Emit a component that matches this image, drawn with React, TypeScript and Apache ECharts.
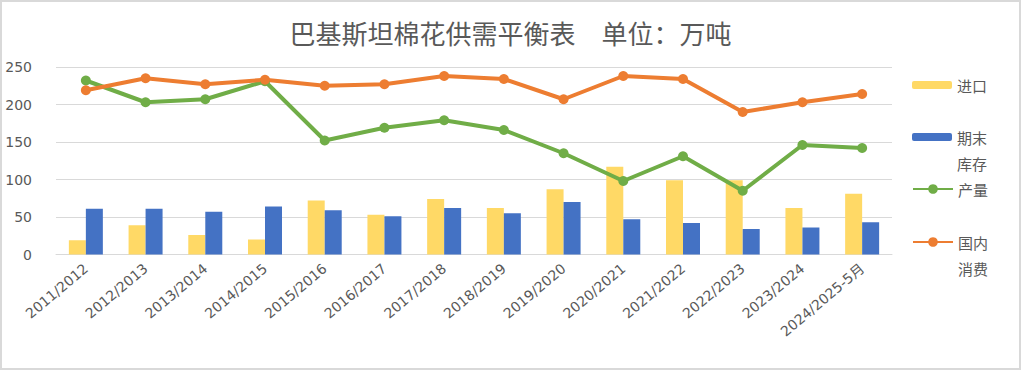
import React, { useEffect, useRef } from "react";
import * as echarts from "echarts";

const categories = [
  "2011/2012", "2012/2013", "2013/2014", "2014/2015", "2015/2016", "2016/2017", "2017/2018",
  "2018/2019", "2019/2020", "2020/2021", "2021/2022", "2022/2023", "2023/2024", "2024/2025-5月",
];
const imports = [19, 39, 26, 20, 72, 53, 74, 62, 87, 117, 99, 99, 62, 81];
const endingStocks = [61, 61, 57, 64, 59, 51, 62, 55, 70, 47, 42, 34, 36, 43];
const production = [232, 203, 207, 231, 152, 169, 179, 166, 135, 98, 131, 85, 146, 142];
const consumption = [219, 235, 227, 233, 225, 227, 238, 234, 207, 238, 234, 190, 203, 214];
const yTicks = [0, 50, 100, 150, 200, 250];

const TITLE = "巴基斯坦棉花供需平衡表　单位：万吨";
const GRAY = "#595959";
const CJK = "'Noto Sans CJK SC', sans-serif";
const NUM = "'DejaVu Sans', 'Noto Sans CJK SC', sans-serif";

export default function App() {
  const ref = useRef<HTMLDivElement>(null);
  useEffect(() => {
    document.body.style.margin = "0";
    if (!ref.current) return;
    const chart = echarts.init(ref.current, null, { renderer: "svg" });
    const legendText = { color: GRAY, fontSize: 15, fontFamily: CJK, lineHeight: 26 };
    chart.setOption({
      animation: false,
      backgroundColor: "#ffffff",
      title: {
        text: TITLE,
        left: "center",
        top: 17,
        padding: 0,
        textStyle: { color: GRAY, fontSize: 26, fontWeight: "normal", fontFamily: CJK },
      },
      legend: [
        {
          data: ["进口"], orient: "vertical", left: 910, top: 70, padding: 0,
          itemWidth: 40, itemHeight: 8, itemGap: 0, textStyle: legendText,
        },
        {
          data: ["期末库存"], orient: "vertical", left: 910, top: 96, padding: 0,
          itemWidth: 40, itemHeight: 8, itemGap: 0,
          formatter: () => "\n期末\n库存",
          textStyle: legendText,
        },
        {
          data: ["产量"], orient: "vertical", left: 910, top: 174, padding: 0,
          itemWidth: 40, itemHeight: 12, itemGap: 0, textStyle: legendText,
        },
        {
          data: ["国内消费"], orient: "vertical", left: 910, top: 201, padding: 0,
          itemWidth: 40, itemHeight: 12, itemGap: 0,
          formatter: () => "\n国内\n消费",
          textStyle: legendText,
        },
      ],
      grid: { left: 54, right: 127, top: 65, bottom: 113.5 },
      xAxis: {
        type: "category",
        data: categories,
        axisLine: { lineStyle: { color: "#d9d9d9", width: 1 } },
        axisTick: { show: false },
        axisLabel: {
          rotate: 40,
          interval: 0,
          margin: 12,
          color: GRAY,
          fontSize: 14,
          fontFamily: NUM,
        },
      },
      yAxis: {
        type: "value",
        min: yTicks[0],
        max: yTicks[yTicks.length - 1],
        interval: 50,
        axisLine: { show: false },
        axisTick: { show: false },
        splitLine: { lineStyle: { color: "#d9d9d9", width: 1 } },
        axisLabel: { color: GRAY, fontSize: 14, fontFamily: NUM, margin: 24 },
      },
      series: [
        {
          name: "进口", type: "bar", data: imports, barWidth: 17, barGap: "0%",
          itemStyle: { color: "#FFD966" },
        },
        {
          name: "期末库存", type: "bar", data: endingStocks, barWidth: 17, barGap: "0%",
          itemStyle: { color: "#4472C4" },
        },
        {
          name: "产量", type: "line", data: production, symbol: "circle", symbolSize: 10,
          lineStyle: { color: "#70AD47", width: 4 }, itemStyle: { color: "#70AD47" },
        },
        {
          name: "国内消费", type: "line", data: consumption, symbol: "circle", symbolSize: 10,
          lineStyle: { color: "#ED7D31", width: 4 }, itemStyle: { color: "#ED7D31" },
        },
      ],
    });
    return () => chart.dispose();
  }, []);
  return (
    <div
      style={{
        position: "fixed", left: 0, top: 0, width: 1021, height: 370,
        boxSizing: "border-box", border: "2px solid #d9d9d9", background: "#fff",
      }}
    >
      <div ref={ref} style={{ width: 1017, height: 366 }} />
    </div>
  );
}
